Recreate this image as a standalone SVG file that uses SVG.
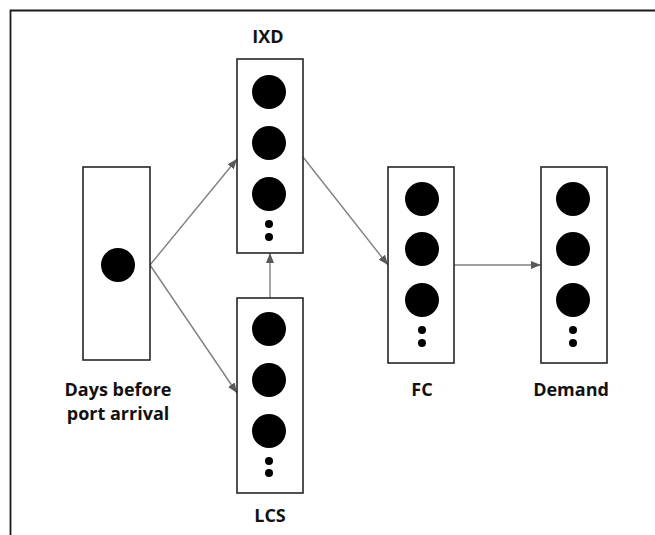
<svg xmlns="http://www.w3.org/2000/svg" width="655" height="535" viewBox="0 0 655 535">
<style>
.box{fill:#fff;stroke:#262626;stroke-width:1.6}
.dot{fill:#000}
.lbl{font-family:"Open Sans","Liberation Sans",sans-serif;font-weight:700;font-size:18px;fill:#111;text-anchor:middle}
.edge{stroke:#808080;stroke-width:1.4;fill:none;marker-end:url(#ah)}
</style>
<defs>
<marker id="ah" markerWidth="10" markerHeight="8" refX="10" refY="4" orient="auto" markerUnits="userSpaceOnUse">
<path d="M0,0 L10,4 L0,8 Z" fill="#595959"/>
</marker>
</defs>
<rect width="655" height="535" fill="#fff"/>
<path d="M10.5,535 L10.5,10.5 L655,10.5" fill="none" stroke="#1a1a1a" stroke-width="1.8"/>
<g id="connectors">
<line class="edge" x1="150" y1="265" x2="237" y2="159"/>
<line class="edge" x1="150" y1="265" x2="237" y2="393"/>
<line class="edge" x1="270" y1="298" x2="270" y2="253"/>
<line class="edge" x1="303" y1="157" x2="388" y2="265"/>
<line class="edge" x1="454" y1="265" x2="541" y2="265"/>
</g>
<g id="days">
<rect class="box" x="83" y="167" width="67" height="193"/>
<circle class="dot" cx="118" cy="265" r="17"/>
<text class="lbl" x="118" y="396">Days before</text>
<text class="lbl" x="118" y="420">port arrival</text>
</g>
<g id="ixd">
<rect class="box" x="237" y="59" width="66" height="194"/>
<circle class="dot" cx="269" cy="92" r="17"/>
<circle class="dot" cx="269" cy="143" r="17"/>
<circle class="dot" cx="269" cy="194" r="17"/>
<circle class="dot" cx="269" cy="224" r="4"/>
<circle class="dot" cx="269" cy="237" r="4"/>
<text class="lbl" x="268" y="43">IXD</text>
</g>
<g id="lcs">
<rect class="box" x="237" y="298" width="66" height="195"/>
<circle class="dot" cx="269" cy="329" r="17"/>
<circle class="dot" cx="269" cy="380" r="17"/>
<circle class="dot" cx="269" cy="431" r="17"/>
<circle class="dot" cx="269" cy="461" r="4"/>
<circle class="dot" cx="269" cy="473" r="4"/>
<text class="lbl" x="270" y="522">LCS</text>
</g>
<g id="fc">
<rect class="box" x="388" y="167" width="66" height="196"/>
<circle class="dot" cx="422" cy="199" r="17"/>
<circle class="dot" cx="422" cy="249" r="17"/>
<circle class="dot" cx="422" cy="300" r="17"/>
<circle class="dot" cx="422" cy="330" r="4"/>
<circle class="dot" cx="422" cy="343" r="4"/>
<text class="lbl" x="422" y="396">FC</text>
</g>
<g id="demand">
<rect class="box" x="541" y="167" width="66" height="196"/>
<circle class="dot" cx="573" cy="199" r="17"/>
<circle class="dot" cx="573" cy="249" r="17"/>
<circle class="dot" cx="573" cy="300" r="17"/>
<circle class="dot" cx="573" cy="330" r="4"/>
<circle class="dot" cx="573" cy="343" r="4"/>
<text class="lbl" x="571" y="396">Demand</text>
</g>
</svg>
